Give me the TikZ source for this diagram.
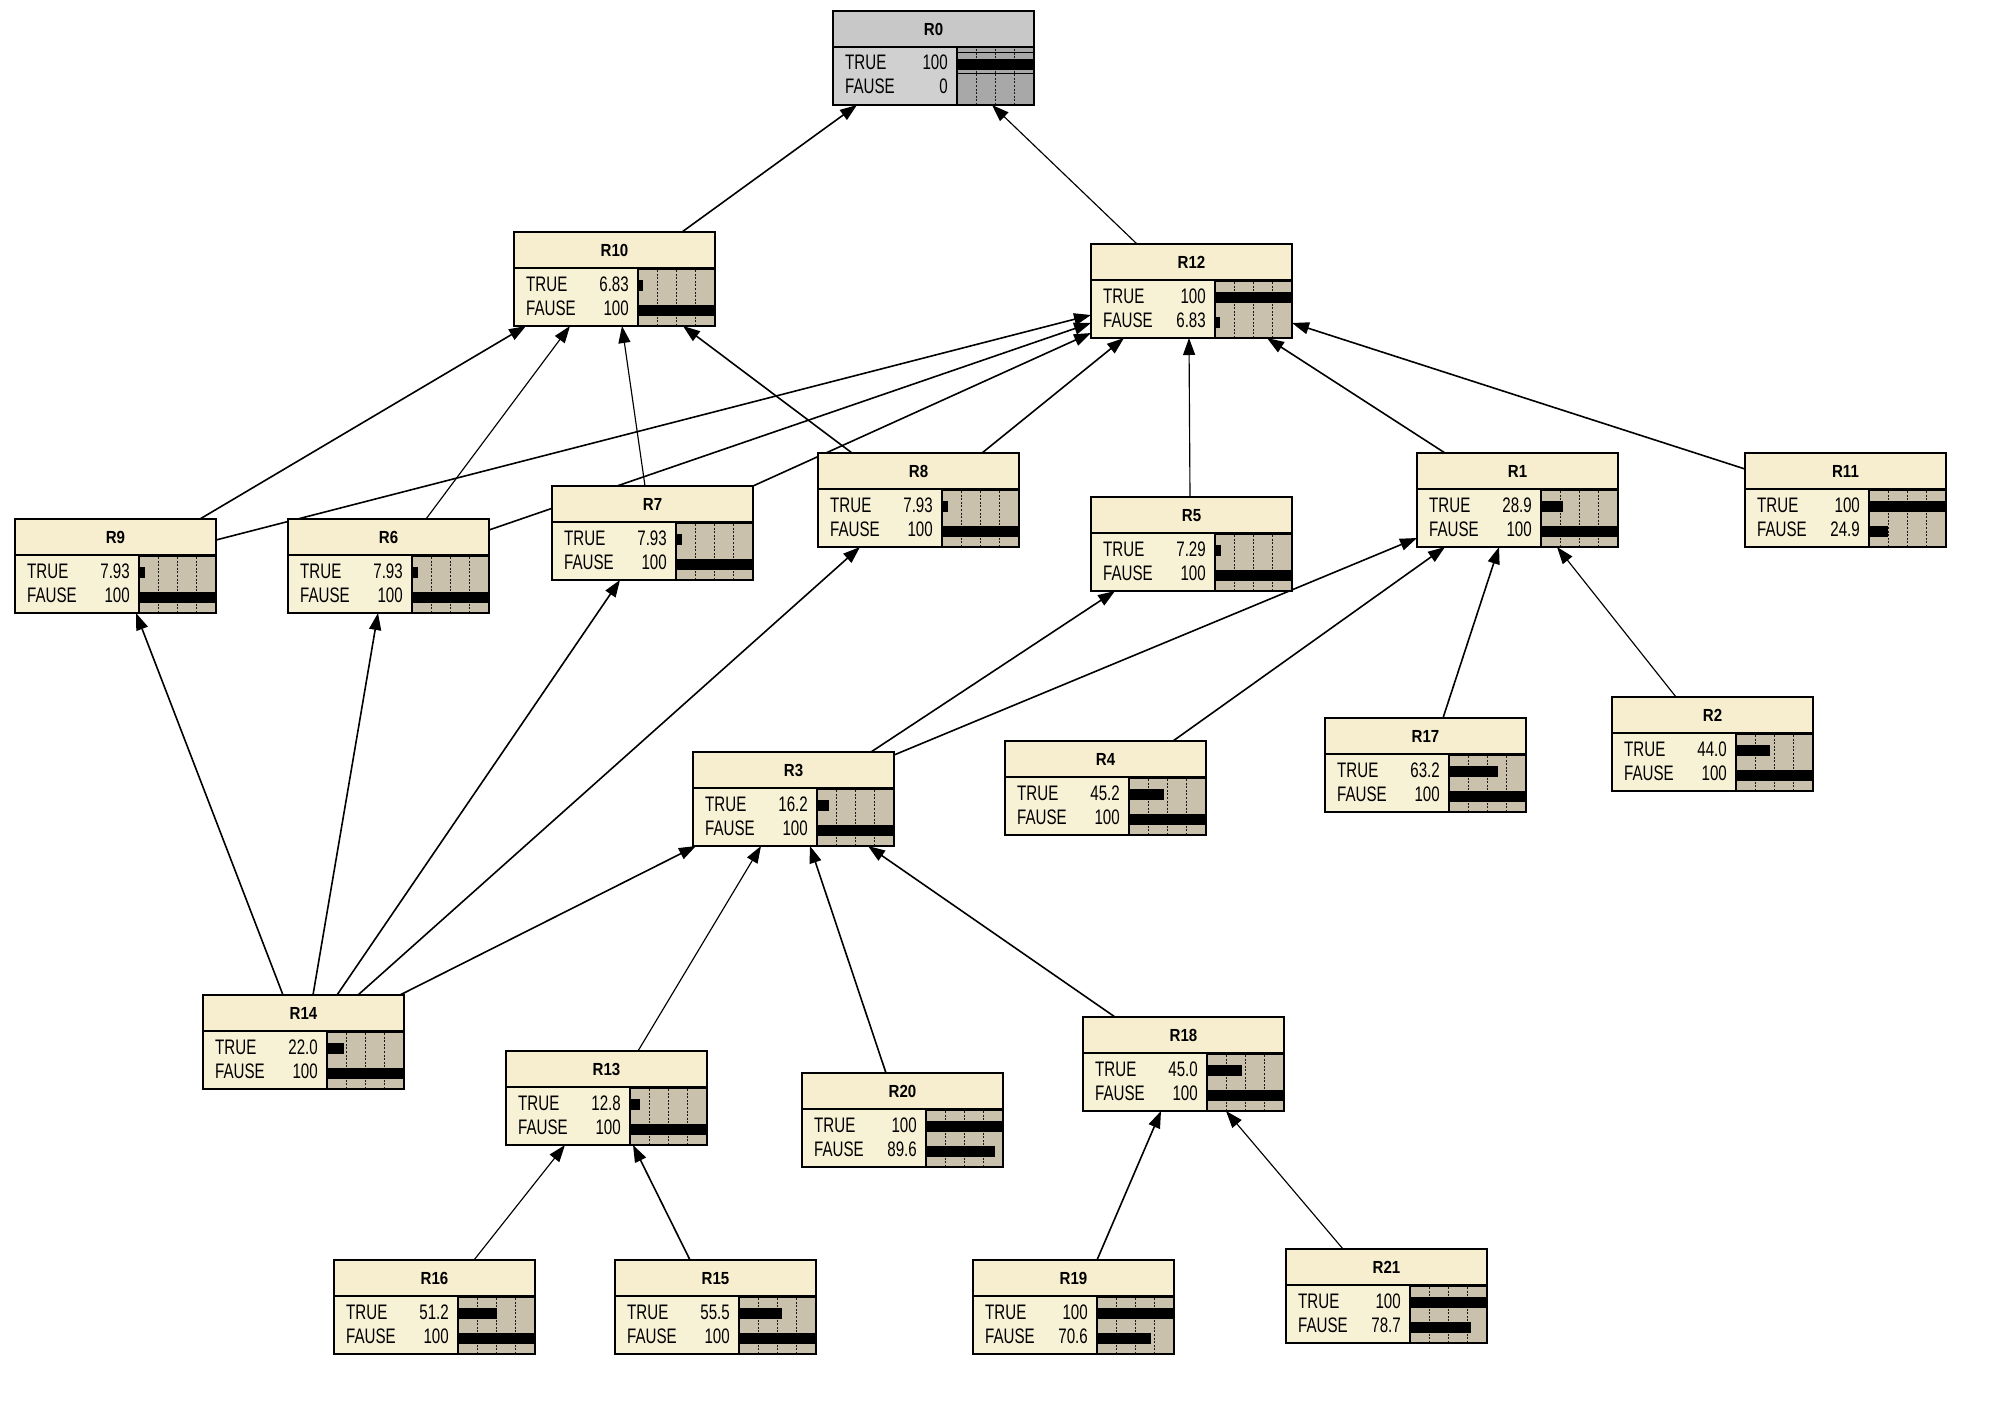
\documentclass[tikz,border=0pt]{standalone}
\usepackage{fontspec}
\setmainfont{Liberation Sans}[FakeStretch=0.72]
\newfontfamily\ttlfont{Liberation Sans}[FakeStretch=0.86]
\usetikzlibrary{arrows.meta,calc}
\definecolor{ttlN}{RGB}{246,238,206}
\definecolor{bodyN}{RGB}{247,241,214}
\definecolor{barN}{RGB}{201,193,172}
\definecolor{ttlG}{RGB}{200,200,200}
\definecolor{bodyG}{RGB}{208,208,208}
\definecolor{barG}{RGB}{168,168,168}
\pgfdeclarelayer{bg}
\pgfdeclarelayer{edges}
\pgfsetlayers{bg,edges,main}
\tikzset{
  sepN/.style={line width=3.5pt},
  sepG/.style={line width=1.3pt},
  dotline/.style={line width=1.1pt, dash pattern=on 2pt off 1.6pt, black!90},
  rowtxt/.style={inner sep=0pt, font=\fontsize{21}{21}\selectfont},
  ttltxt/.style={inner sep=0pt, font=\ttlfont\bfseries\fontsize{17.5}{17.5}\selectfont},
  frame/.style={draw, line width=1.5pt, minimum width=201pt, minimum height=94pt, inner sep=0pt, outer sep=0pt, anchor=north west},
  arr/.style={-{Triangle[length=17pt,width=12pt]}, line width=1.6pt},
  arrthin/.style={arr, line width=1.15pt}
}
% #1 name, #2 x, #3 y, #4 title, #5 true value, #6 false value, #7 colour set (N or G)
\newcommand\bnode[7]{%
  \pgfmathsetmacro\bT{0.77*#5}%
  \pgfmathsetmacro\bF{0.77*#6}%
  \fill[ttl#7] (#2,#3) rectangle ++(201,36);
  \fill[body#7] (#2,#3+36) rectangle ++(124,58);
  \fill[bar#7] (#2+124,#3+36) rectangle ++(77,58);
  \foreach \k in {0.25,0.5,0.75} \draw[dotline] (#2+124+77*\k,#3+38) -- ++(0,56);
  \ifdim #5pt>0pt \fill (#2+124,#3+48) rectangle ++(\bT,11); \fi
  \ifdim #6pt>0pt \fill (#2+124,#3+73) rectangle ++(\bF,11); \fi
  \node[rowtxt, anchor=base west] at (#2+12,#3+59) {TRUE};
  \node[rowtxt, anchor=base east] at (#2+115,#3+59) {#5};
  \node[rowtxt, anchor=base west] at (#2+12,#3+83) {FAUSE};
  \node[rowtxt, anchor=base east] at (#2+115,#3+83) {#6};
  \node[ttltxt, anchor=base] at (#2+100.5,#3+24.5) {#4};
  \draw[line width=1.5pt] (#2,#3+36) -- ++(201,0);
  \draw[sep#7] (#2+124,#3+36.5) -- ++(77,0);
  \draw[line width=1.2pt] (#2+124,#3+36) -- ++(0,58);
  \node[frame] (#1) at (#2,#3) {};
}
\begin{document}
\begin{tikzpicture}[x=1pt,y=-1pt]
\useasboundingbox (0,0) rectangle (2000,1426);
\begin{pgfonlayer}{bg}
\fill[white] (0,0) rectangle (2000,1426);
\end{pgfonlayer}
% nodes
\bnode{R0}{833}{11}{R0}{100}{0}{G}
\draw[line width=1pt] (833+124,11+42) -- ++(77,0);
\draw[line width=1pt] (833+124,11+63) -- ++(77,0);
\bnode{R10}{514}{232}{R10}{6.83}{100}{N}
\bnode{R12}{1091}{244}{R12}{100}{6.83}{N}
\bnode{R9}{15}{519}{R9}{7.93}{100}{N}
\bnode{R6}{288}{519}{R6}{7.93}{100}{N}
\bnode{R7}{552}{486}{R7}{7.93}{100}{N}
\bnode{R8}{818}{453}{R8}{7.93}{100}{N}
\bnode{R5}{1091}{497}{R5}{7.29}{100}{N}
\bnode{R1}{1417}{453}{R1}{28.9}{100}{N}
\bnode{R11}{1745}{453}{R11}{100}{24.9}{N}
\bnode{R3}{693}{752}{R3}{16.2}{100}{N}
\bnode{R4}{1005}{741}{R4}{45.2}{100}{N}
\bnode{R17}{1325}{718}{R17}{63.2}{100}{N}
\bnode{R2}{1612}{697}{R2}{44.0}{100}{N}
\bnode{R14}{203}{995}{R14}{22.0}{100}{N}
\bnode{R13}{506}{1051}{R13}{12.8}{100}{N}
\bnode{R20}{802}{1073}{R20}{100}{89.6}{N}
\bnode{R18}{1083}{1017}{R18}{45.0}{100}{N}
\bnode{R16}{334}{1260}{R16}{51.2}{100}{N}
\bnode{R15}{615}{1260}{R15}{55.5}{100}{N}
\bnode{R19}{973}{1260}{R19}{100}{70.6}{N}
\bnode{R21}{1286}{1249}{R21}{100}{78.7}{N}
% edges
\begin{pgfonlayer}{edges}
\draw[arr]     ($(R10.north west)+(168,0)$) -- ($(R0.north west)+(24,94)$);
\draw[arrthin] ($(R12.north west)+(46,0)$)  -- ($(R0.north west)+(159,94)$);
\draw[arr]     ($(R9.north west)+(185,0)$)  -- ($(R10.north west)+(12,94)$);
\draw[arrthin] ($(R6.north west)+(138,0)$)  -- ($(R10.north west)+(56,94)$);
\draw[arrthin] ($(R7.north west)+(93,0)$)   -- ($(R10.north west)+(108,94)$);
\draw[arr]     ($(R8.north west)+(34,0)$)   -- ($(R10.north west)+(169,94)$);
\draw[arr]     ($(R9.north west)+(201,21)$) -- ($(R12.north west)+(0,71)$);
\draw[arr]     ($(R6.north west)+(201,11)$) -- ($(R12.north west)+(0,79)$);
\draw[arr]     ($(R7.north west)+(201,0)$)  -- ($(R12.north west)+(0,89)$);
\draw[arr]     ($(R8.north west)+(164,0)$)  -- ($(R12.north west)+(33,94)$);
\draw[arrthin] ($(R5.north west)+(99,0)$)   -- ($(R12.north west)+(98,94)$);
\draw[arr]     ($(R1.north west)+(28,0)$)   -- ($(R12.north west)+(176,94)$);
\draw[arr]     ($(R11.north west)+(0,16)$)  -- ($(R12.north west)+(201,79)$);
\draw[arr]     ($(R14.north west)+(80,0)$)  -- ($(R9.north west)+(121,94)$);
\draw[arr]     ($(R14.north west)+(110,0)$) -- ($(R6.north west)+(90,94)$);
\draw[arr]     ($(R14.north west)+(134,0)$) -- ($(R7.north west)+(68,94)$);
\draw[arr]     ($(R14.north west)+(155,0)$) -- ($(R8.north west)+(42,94)$);
\draw[arr]     ($(R14.north west)+(197,0)$) -- ($(R3.north west)+(3,94)$);
\draw[arr]     ($(R3.north west)+(178,0)$)  -- ($(R5.north west)+(24,94)$);
\draw[arr]     ($(R3.north west)+(201,3)$)  -- ($(R1.north west)+(0,85)$);
\draw[arr]     ($(R4.north west)+(168,0)$)  -- ($(R1.north west)+(28,94)$);
\draw[arr]     ($(R17.north west)+(118,0)$) -- ($(R1.north west)+(82,94)$);
\draw[arrthin] ($(R2.north west)+(64,0)$)   -- ($(R1.north west)+(140,94)$);
\draw[arrthin] ($(R13.north west)+(132,0)$) -- ($(R3.north west)+(68,94)$);
\draw[arr]     ($(R20.north west)+(84,0)$)  -- ($(R3.north west)+(117,94)$);
\draw[arr]     ($(R18.north west)+(32,0)$)  -- ($(R3.north west)+(175,94)$);
\draw[arrthin] ($(R16.north west)+(140,0)$) -- ($(R13.north west)+(59,94)$);
\draw[arr]     ($(R15.north west)+(75,0)$)  -- ($(R13.north west)+(127,94)$);
\draw[arr]     ($(R19.north west)+(124,0)$) -- ($(R18.north west)+(78,94)$);
\draw[arrthin] ($(R21.north west)+(57,0)$)  -- ($(R18.north west)+(143,94)$);
\end{pgfonlayer}
\end{tikzpicture}
\end{document}
